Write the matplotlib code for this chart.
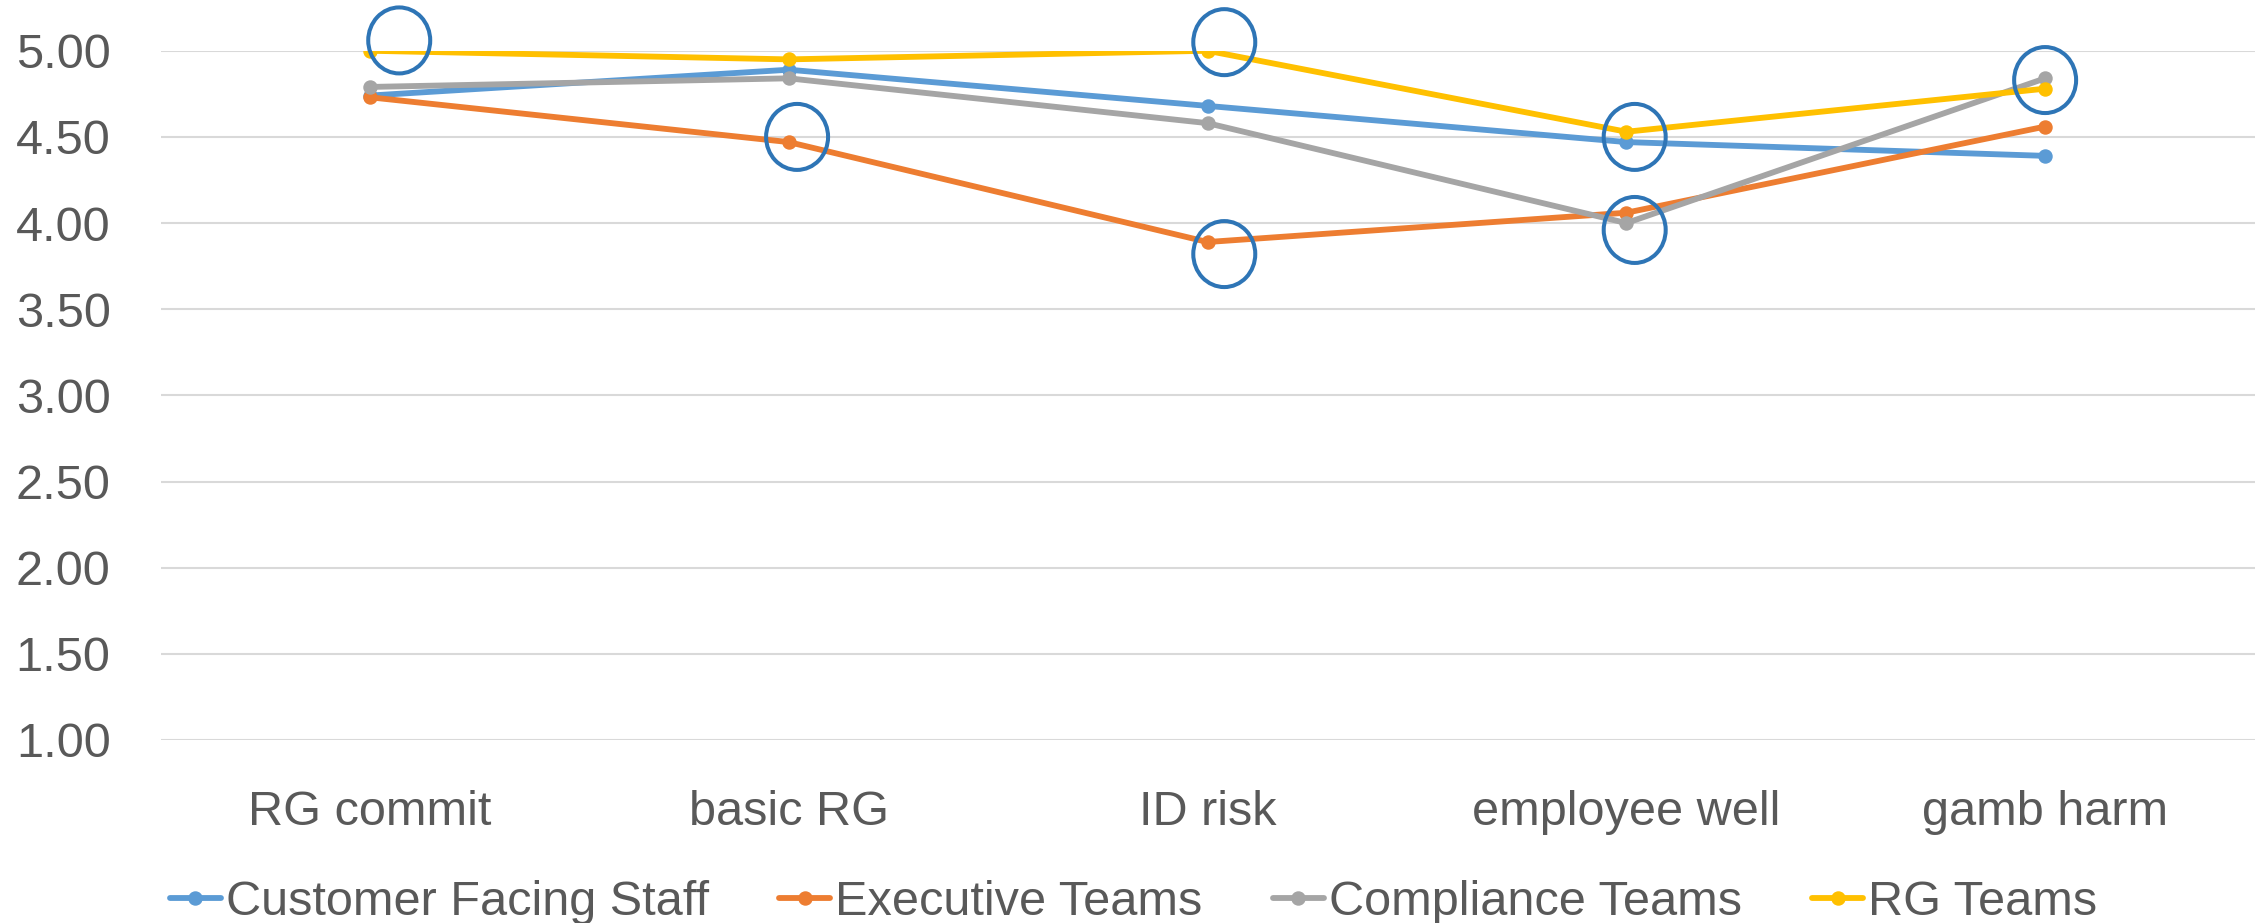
import matplotlib
matplotlib.use('Agg')
import matplotlib.pyplot as plt
from matplotlib.patches import Ellipse

plt.rcParams['font.family'] = ['Liberation Sans', 'DejaVu Sans']

categories = ['RG commit', 'basic RG', 'ID risk', 'employee well', 'gamb harm']
series_names = ['Customer Facing Staff', 'Executive Teams', 'Compliance Teams', 'RG Teams']
customer_facing = [4.74, 4.89, 4.68, 4.47, 4.39]
executive = [4.73, 4.47, 3.89, 4.06, 4.56]
compliance = [4.79, 4.84, 4.58, 4.00, 4.84]
rg_teams = [5.00, 4.95, 5.00, 4.53, 4.78]
colors = ['#5B9BD5', '#ED7D31', '#A5A5A5', '#FFC000']

# highlighted points: (category index, value)
highlights = [(0.07, 5.06), (1.02, 4.50), (2.04, 5.05), (2.04, 3.82),
              (3.02, 4.50), (3.02, 3.96), (4.0, 4.83)]

fig = plt.figure(figsize=(22.67, 9.23), dpi=100)
ax = fig.add_axes([0.0708, 0.1983, 0.9237, 0.7467])

x = list(range(len(categories)))
for vals, name, c in zip([customer_facing, executive, compliance, rg_teams], series_names, colors):
    ax.plot(x, vals, color=c, lw=4.2, marker='o', ms=9.4, label=name, solid_capstyle='round')

for cx, cy in highlights:
    ax.add_patch(Ellipse((cx, cy), 0.148, 0.383, fill=False, ec='#2E75B6', lw=2.9, clip_on=False, zorder=5))

ax.set_xlim(-0.5, 4.5)
ax.set_ylim(1, 5)
ax.set_yticks([1 + 0.5 * i for i in range(9)])
ax.set_yticklabels(['%.2f' % (1 + 0.5 * i) for i in range(9)])
ax.set_xticks(x)
ax.set_xticklabels(categories)
ax.yaxis.grid(True, color='#D9D9D9', lw=1.5)
ax.set_axisbelow(True)
for s in ax.spines.values():
    s.set_visible(False)
ax.tick_params(axis='both', length=0, labelsize=35, colors='#595959')
ax.tick_params(axis='y', pad=36)
ax.tick_params(axis='x', pad=36)

fig.legend(loc='lower center', ncol=4, frameon=False, fontsize=35, labelcolor='#595959',
           handlelength=1.05, handletextpad=0.1, columnspacing=1.45,
           bbox_to_anchor=(0.5, -0.05))

fig.savefig('out.png', dpi=100)
